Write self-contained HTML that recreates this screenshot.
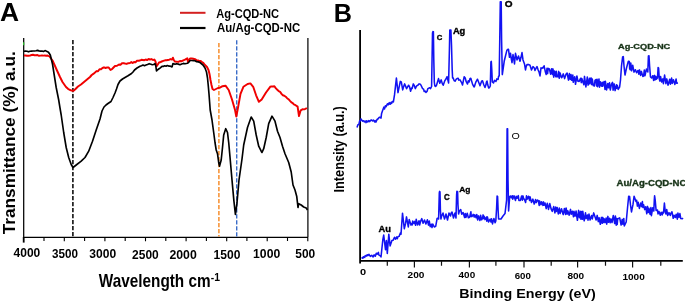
<!DOCTYPE html>
<html><head><meta charset="utf-8"><style>
html,body{margin:0;padding:0;background:#fff;}
svg{display:block;will-change:transform;filter:blur(0.3px);}
text{font-family:"Liberation Sans", sans-serif;}
</style></head><body>
<svg width="685" height="301" viewBox="0 0 685 301">
<rect width="685" height="301" fill="#fff"/>
<path d="M23.7,38 V237.3 H308" stroke="#000" stroke-width="1.25" fill="none"/>
<path d="M307.9,38 V237.3" stroke="#111" stroke-width="1.3" fill="none"/>
<path d="M23.7,42.3 V45.3" stroke="#3c3" stroke-width="1.2"/>
<path d="M44.0,237.3 V241.0 M64.3,237.3 V241.3 M84.6,237.3 V241.0 M104.9,237.3 V241.3 M125.2,237.3 V241.0 M145.5,237.3 V241.3 M165.8,237.3 V241.0 M186.1,237.3 V241.3 M206.4,237.3 V241.0 M226.7,237.3 V241.3 M246.9,237.3 V241.0 M267.2,237.3 V241.3 M287.5,237.3 V241.0 M307.8,237.3 V241.3 " stroke="#000" stroke-width="1.1" fill="none"/>
<path d="M23.7,237 V242.6" stroke="#000" stroke-width="1.8" fill="none"/>
<path d="M72.9,40 V236.5" stroke="#000" stroke-width="1.5" stroke-dasharray="4.3,1.7"/>
<path d="M218.9,43 V236.5" stroke="#f5861f" stroke-width="1.4" stroke-dasharray="4.3,1.7"/>
<path d="M236.7,40.3 V236.5" stroke="#3a6cc8" stroke-width="1.4" stroke-dasharray="4.3,1.7"/>
<path d="M24.0,55.5 L25.5,55.5 L27.0,55.8 L28.5,55.8 L30.0,55.6 L31.5,55.0 L33.0,54.8 L34.5,55.2 L36.0,55.3 L37.5,55.0 L39.0,55.8 L40.5,55.6 L42.0,55.4 L43.4,55.6 L44.8,55.5 L46.1,55.7 L47.5,55.5 L49.5,56.5 L52.5,60.5 L55.0,66.0 L57.0,70.5 L60.0,77.0 L62.5,82.0 L66.0,87.0 L68.0,88.8 L70.0,90.0 L72.0,90.7 L73.5,90.8 L75.0,89.5 L78.0,86.5 L81.0,84.5 L84.0,82.0 L87.0,79.5 L90.0,77.0 L91.7,75.0 L93.3,73.9 L95.0,72.5 L96.5,71.1 L98.0,71.3 L99.5,69.2 L101.0,69.3 L102.5,68.0 L104.0,67.3 L105.6,68.0 L107.2,67.4 L108.7,67.5 L110.5,70.0 L112.0,69.2 L113.5,67.5 L115.0,66.0 L117.0,65.8 L119.0,64.5 L120.5,64.7 L122.0,63.3 L123.5,63.1 L125.0,63.5 L126.7,63.9 L128.3,63.2 L130.0,63.0 L131.3,62.1 L132.7,63.0 L134.0,62.0 L135.5,62.3 L137.0,60.7 L138.5,60.8 L140.0,60.5 L141.4,59.8 L142.9,60.0 L144.3,60.2 L145.7,59.5 L147.1,60.1 L148.6,59.0 L150.0,59.5 L151.5,59.1 L153.0,60.0 L154.5,59.6 L155.5,61.5 L156.5,66.3 L157.5,65.0 L159.0,62.5 L160.0,62.3 L161.7,61.5 L163.3,60.9 L165.0,60.3 L166.4,60.3 L167.8,60.0 L169.2,59.7 L170.6,59.1 L172.0,59.6 L172.9,57.7 L173.8,60.0 L175.0,61.6 L176.7,61.7 L178.3,61.9 L180.0,61.0 L181.7,61.2 L183.3,60.3 L185.0,59.6 L187.3,58.3 L188.0,62.0 L190.0,58.5 L191.7,58.5 L193.3,58.8 L195.0,59.2 L196.5,60.1 L198.0,60.4 L199.3,61.2 L200.7,60.9 L202.0,62.0 L203.5,63.1 L205.0,65.0 L207.0,67.0 L208.5,70.0 L209.5,74.0 L210.5,80.0 L211.5,85.0 L212.5,89.0 L214.0,90.0 L216.0,89.0 L218.0,88.0 L220.0,87.6 L222.5,86.2 L225.5,85.7 L228.7,90.0 L232.0,99.5 L234.9,109.4 L236.3,116.5 L237.7,109.4 L240.5,93.9 L243.4,86.8 L247.6,84.0 L250.4,83.4 L253.2,86.8 L256.1,95.3 L258.9,101.8 L261.7,99.5 L266.0,92.5 L270.2,86.8 L271.6,86.4 L273.0,86.5 L274.4,86.3 L275.9,88.4 L277.3,89.7 L278.7,91.1 L280.1,91.8 L281.5,93.9 L282.9,95.3 L284.3,95.7 L285.7,96.7 L287.1,98.2 L288.5,99.2 L290.0,100.9 L291.4,102.4 L292.8,103.2 L294.2,104.6 L295.6,105.2 L297.6,106.6 L299.0,116.0 L300.7,110.3 L302.4,109.3 L304.0,109.4 L305.4,108.8 L306.9,108.0" stroke="#f00000" stroke-width="1.95" fill="none" stroke-linejoin="round"/>
<path d="M24.0,51.2 L25.5,51.1 L27.0,51.3 L28.5,51.8 L30.0,51.2 L31.5,51.1 L33.0,51.0 L34.5,51.0 L36.0,50.8 L37.5,50.4 L39.0,50.9 L40.5,51.1 L42.0,51.0 L43.5,51.5 L45.0,50.6 L46.5,51.2 L48.5,52.2 L50.3,55.0 L52.5,64.0 L56.2,87.5 L58.7,100.0 L60.0,108.0 L61.2,115.0 L63.7,132.5 L66.2,147.5 L68.7,157.5 L71.2,164.5 L73.0,167.5 L76.2,165.0 L81.2,161.2 L85.0,157.5 L88.7,151.2 L92.5,141.2 L96.2,130.0 L100.0,119.0 L102.0,111.0 L104.0,107.0 L106.0,105.0 L108.0,103.5 L111.0,101.5 L113.0,97.5 L115.0,93.0 L116.5,89.0 L118.0,84.5 L120.0,81.0 L122.5,79.0 L125.0,77.5 L128.0,75.8 L131.5,73.5 L133.0,72.0 L134.5,70.0 L137.0,68.0 L140.0,66.3 L141.5,65.7 L143.0,65.0 L144.5,65.7 L146.0,65.1 L147.5,64.5 L149.2,63.7 L151.0,64.2 L152.3,64.7 L153.7,64.5 L155.0,63.6 L155.8,66.0 L156.5,71.0 L157.3,70.0 L158.7,69.0 L160.3,67.9 L162.0,66.3 L163.3,66.4 L164.7,65.8 L166.0,66.2 L167.3,65.5 L168.7,66.1 L170.0,66.0 L172.0,67.0 L173.0,63.5 L175.0,64.3 L176.7,63.8 L178.3,64.1 L180.0,64.7 L181.7,64.0 L183.3,63.4 L185.0,63.8 L187.5,63.3 L189.0,62.0 L190.0,60.5 L191.7,60.5 L193.3,60.6 L195.0,60.7 L196.7,61.8 L198.3,61.9 L200.0,62.5 L203.0,65.0 L205.0,68.0 L206.5,72.0 L207.5,78.0 L208.3,86.0 L209.0,94.0 L209.6,102.0 L210.2,110.0 L212.0,120.0 L213.7,132.5 L215.0,142.5 L216.2,150.0 L217.5,153.7 L218.7,162.5 L219.5,166.2 L221.2,160.0 L222.5,147.5 L223.7,135.0 L225.7,128.7 L227.5,132.5 L228.7,142.5 L230.0,157.0 L232.0,180.0 L233.9,200.9 L235.4,214.4 L236.9,203.9 L239.0,180.0 L242.0,159.0 L243.7,145.0 L247.5,127.5 L251.2,117.0 L253.7,121.2 L256.2,135.0 L258.7,146.2 L261.2,151.2 L262.0,152.5 L263.7,148.7 L266.2,137.5 L268.7,123.7 L272.0,116.2 L275.0,121.2 L277.5,131.2 L280.0,137.5 L282.5,146.2 L285.0,153.7 L288.7,162.5 L291.2,172.0 L293.0,185.0 L295.0,190.0 L296.7,196.2 L298.0,207.5 L298.7,203.7 L301.2,205.0 L303.7,207.0 L306.2,208.0 L307.5,210.0" stroke="#000" stroke-width="1.65" fill="none" stroke-linejoin="round"/>
<path d="M180,12.8 H205.5" stroke="#d42020" stroke-width="2"/>
<path d="M180,28 H205.5" stroke="#000" stroke-width="2.2"/>
<path d="M360.1,30 V263.6" stroke="#000" stroke-width="1.8" fill="none"/>
<path d="M360,260.9 H682.8" stroke="#000" stroke-width="1.9" fill="none"/>
<path d="M387.3,261 V265.8 M414.4,261 V267.4 M441.5,261 V265.8 M469.4,261 V267.4 M495.9,261 V265.8 M524.0,261 V267.4 M551.2,261 V265.8 M577.6,261 V267.4 M605.5,261 V265.8 M632.6,261 V267.4 M660.8,261 V265.8 " stroke="#111" stroke-width="1.2" fill="none"/>
<path d="M357.0,127.5 L357.9,124.8 L358.8,124.6 L359.7,120.8 L360.4,120.9 L361.0,118.9 L362.5,121.2 L363.9,120.7 L364.4,121.9 L365.5,121.1 L366.1,122.6 L366.7,120.7 L367.8,122.0 L368.9,120.5 L369.7,121.6 L371.1,119.9 L372.5,120.9 L373.4,120.1 L374.8,121.9 L375.3,120.6 L376.0,122.1 L377.1,119.2 L377.7,119.4 L378.5,118.1 L379.6,117.2 L381.0,118.1 L381.6,113.4 L382.7,110.2 L383.9,107.1 L384.5,109.0 L385.4,105.8 L386.1,106.6 L387.4,103.8 L388.2,104.8 L389.3,102.6 L390.1,104.3 L391.1,102.3 L391.6,103.4 L392.4,101.5 L393.4,101.9 L394.5,94.9 L396.4,78.1 L398.0,92.6 L400.3,81.4 L401.3,81.9 L402.7,89.9 L403.7,86.4 L404.6,83.9 L406.6,88.6 L408.6,85.2 L409.6,87.0 L410.6,91.2 L411.6,88.1 L412.1,88.5 L413.3,83.9 L414.3,85.7 L415.3,88.6 L416.6,85.9 L417.9,85.2 L418.8,84.0 L419.9,83.9 L420.9,85.0 L422.6,88.6 L423.6,89.2 L424.1,91.4 L425.2,91.1 L425.9,92.5 L427.0,91.4 L427.9,88.6 L429.7,87.7 L430.5,88.6 L431.6,86.5 L432.5,33.0 L432.9,31.6 L433.4,31.8 L433.8,60.0 L434.3,82.0 L434.8,85.9 L435.6,86.5 L436.5,85.2 L438.5,78.6 L439.8,83.2 L441.2,79.9 L442.3,83.6 L443.2,85.2 L444.7,80.9 L445.8,79.3 L447.1,76.6 L448.6,83.0 L449.4,50.0 L449.8,30.0 L450.9,30.0 L451.5,45.0 L452.2,70.0 L452.6,78.0 L453.1,77.9 L454.1,80.5 L455.1,81.2 L456.3,79.2 L457.1,78.6 L458.2,78.3 L458.9,80.1 L460.0,79.9 L461.6,82.6 L462.5,85.0 L464.2,76.7 L465.2,77.9 L466.2,81.7 L467.5,84.0 L468.3,80.8 L469.2,81.9 L469.9,78.8 L470.8,78.3 L472.6,84.4 L474.0,87.0 L474.6,86.0 L475.1,84.2 L475.8,82.2 L477.5,79.2 L480.0,85.8 L481.6,81.3 L482.5,80.8 L483.9,85.0 L485.0,87.5 L485.9,85.1 L486.4,82.2 L487.0,81.0 L487.8,85.1 L488.7,88.0 L489.5,87.5 L490.3,86.0 L490.9,62.0 L491.3,61.3 L491.8,70.0 L492.3,82.0 L493.5,83.0 L494.4,80.4 L495.9,81.5 L496.8,78.9 L498.1,79.5 L498.6,76.2 L499.2,76.0 L499.9,30.0 L500.3,1.8 L501.2,1.8 L501.6,40.0 L502.3,74.6 L504.2,61.3 L506.8,50.6 L507.4,49.5 L508.5,49.3 L509.5,57.3 L510.5,53.3 L511.3,58.9 L512.0,62.6 L513.0,54.6 L513.6,57.7 L514.5,63.9 L515.5,53.3 L517.0,59.9 L518.5,56.0 L520.0,61.2 L521.0,57.3 L522.0,52.6 L523.0,59.9 L524.5,63.9 L525.5,69.9 L526.2,66.4 L527.0,64.6 L528.9,64.6 L530.0,65.2 L531.5,70.0 L533.0,66.6 L534.3,68.1 L535.0,70.5 L536.4,67.5 L537.0,66.6 L538.0,69.6 L539.0,71.9 L540.0,75.9 L541.0,67.9 L542.0,68.4 L542.4,67.5 L543.0,68.0 L544.1,65.8 L545.4,72.1 L546.2,74.5 L547.0,68.3 L547.6,73.6 L548.2,68.4 L549.4,69.0 L550.6,74.2 L551.6,68.8 L552.4,74.4 L553.0,68.9 L553.7,77.1 L554.5,71.0 L555.7,76.7 L556.3,71.3 L556.8,76.8 L558.0,76.7 L558.7,71.4 L559.2,78.3 L560.1,72.9 L561.4,77.5 L561.8,77.7 L563.3,73.9 L564.6,78.6 L566.0,74.3 L567.1,73.0 L568.5,80.1 L569.4,73.5 L570.3,79.5 L571.0,74.5 L571.8,80.3 L572.8,75.1 L573.2,82.2 L574.7,76.7 L575.5,84.3 L576.9,76.0 L578.0,81.3 L579.1,81.4 L580.6,78.3 L581.3,82.6 L581.8,78.4 L583.3,83.1 L583.9,84.7 L584.5,76.4 L585.9,86.9 L587.3,77.1 L588.1,85.1 L589.5,78.2 L589.9,83.9 L591.1,77.9 L591.8,84.6 L592.3,79.0 L593.3,85.6 L594.4,86.0 L595.0,80.4 L596.0,79.5 L596.6,85.9 L597.1,79.3 L597.6,86.7 L599.0,79.0 L599.5,87.2 L600.3,81.7 L601.4,86.1 L602.2,82.3 L602.6,86.3 L604.0,81.6 L605.0,89.5 L605.4,81.3 L606.6,89.9 L607.8,83.5 L608.6,87.8 L609.5,82.8 L610.3,90.0 L611.5,84.2 L612.5,82.4 L613.1,90.2 L614.2,83.9 L615.1,90.6 L616.5,84.7 L616.9,88.1 L617.4,85.6 L618.2,89.4 L619.6,87.2 L620.5,80.0 L621.5,66.0 L622.6,57.0 L623.3,56.6 L624.0,66.0 L625.0,75.0 L626.5,68.0 L628.2,61.6 L628.7,61.2 L629.3,61.4 L629.7,68.9 L630.3,69.8 L630.8,63.1 L631.6,70.8 L632.7,65.2 L634.0,72.1 L635.4,69.7 L636.6,72.7 L638.0,70.5 L638.8,74.2 L639.5,69.9 L640.6,75.4 L641.4,71.4 L642.8,76.4 L643.6,76.1 L644.3,70.1 L645.0,75.7 L646.4,69.1 L647.8,72.0 L648.4,56.0 L649.0,55.8 L649.6,66.0 L650.5,77.0 L651.6,78.0 L652.8,75.7 L653.6,80.4 L654.5,75.4 L655.0,79.9 L655.9,76.4 L656.3,79.2 L657.5,78.0 L658.1,67.5 L658.6,68.0 L659.3,79.0 L659.9,81.1 L660.6,76.6 L661.7,82.0 L662.9,78.9 L663.4,83.7 L664.6,75.1 L665.9,83.7 L666.8,78.9 L668.0,85.2 L668.4,84.1 L669.7,79.2 L670.4,84.2 L671.6,78.1 L672.2,83.4 L673.4,79.7 L674.9,84.4 L676.1,79.0 L676.6,83.2 L678.0,83.0" stroke="#1212f2" stroke-width="1.55" fill="none" stroke-linejoin="round"/>
<path d="M361.6,258.4 L362.2,257.7 L362.9,258.2 L363.3,256.8 L364.7,257.4 L365.2,255.6 L366.3,256.1 L367.2,254.7 L367.8,255.7 L369.0,254.4 L370.3,256.4 L371.7,255.4 L373.1,256.9 L374.1,254.9 L375.3,256.2 L376.3,253.3 L377.2,254.2 L378.4,252.3 L378.8,254.8 L379.5,255.3 L380.4,255.9 L381.0,257.0 L382.8,240.0 L383.7,235.1 L385.5,249.7 L386.4,240.6 L387.3,253.4 L388.8,234.2 L390.1,246.0 L391.9,240.6 L393.0,240.3 L394.5,237.3 L395.5,239.2 L396.8,236.9 L397.3,238.8 L397.8,236.9 L399.1,236.4 L400.5,232.8 L401.0,234.2 L402.5,213.2 L404.3,228.7 L405.6,223.2 L406.5,216.9 L408.3,226.9 L409.2,219.6 L411.0,225.1 L411.5,223.6 L412.3,224.9 L412.7,221.1 L414.1,223.5 L414.8,221.4 L415.6,225.3 L416.2,219.3 L417.6,224.9 L419.0,220.7 L419.6,225.0 L420.9,220.5 L421.8,218.6 L423.1,223.3 L424.5,220.0 L425.9,223.9 L427.4,219.8 L428.5,225.1 L429.3,221.1 L430.2,226.7 L431.4,224.2 L432.0,227.5 L432.8,224.1 L434.3,227.0 L435.7,226.3 L437.1,218.5 L438.2,218.0 L438.6,219.0 L439.3,193.0 L439.6,191.4 L440.0,192.0 L440.4,210.0 L440.9,219.0 L441.6,216.2 L443.0,213.0 L444.5,219.0 L445.4,216.5 L446.0,214.0 L447.5,220.0 L449.0,213.0 L450.5,216.0 L451.2,212.9 L452.0,212.0 L452.8,215.0 L453.5,218.0 L454.3,215.0 L455.0,213.0 L456.0,218.0 L456.6,195.0 L456.9,191.4 L457.6,191.6 L458.0,205.0 L458.6,214.0 L459.4,211.0 L460.7,209.5 L461.7,214.2 L463.1,212.5 L464.6,217.5 L465.2,213.5 L465.9,217.4 L467.2,213.3 L468.4,217.8 L469.6,217.3 L470.9,211.7 L471.3,216.6 L472.1,216.4 L473.2,214.4 L474.2,217.1 L474.8,214.8 L476.2,217.8 L476.8,214.5 L477.6,220.0 L478.5,215.9 L479.9,220.5 L480.6,215.2 L481.6,219.8 L482.5,218.3 L483.1,214.9 L483.6,218.6 L484.1,216.2 L485.0,219.6 L486.4,217.0 L486.8,221.2 L487.4,216.9 L488.6,222.0 L490.1,219.2 L491.0,221.9 L491.5,218.7 L492.5,223.9 L493.9,218.5 L495.1,222.8 L495.8,221.0 L496.6,208.0 L497.1,196.0 L497.6,196.5 L498.1,210.0 L498.6,219.0 L501.0,219.0 L503.0,216.0 L505.0,213.6 L506.6,200.0 L507.1,128.8 L507.6,128.8 L508.0,180.0 L508.6,211.0 L509.7,196.5 L510.8,196.1 L511.3,197.8 L512.3,195.8 L512.7,199.2 L514.0,195.7 L515.5,200.5 L516.2,196.2 L517.1,198.3 L518.3,195.6 L518.9,200.4 L520.4,200.4 L521.6,196.0 L522.4,200.2 L523.0,195.9 L523.5,198.2 L524.7,199.9 L525.6,202.5 L526.5,195.8 L527.2,199.1 L528.5,196.2 L529.6,200.5 L530.0,196.8 L531.5,202.5 L532.9,199.1 L534.2,204.1 L535.6,199.5 L536.2,202.6 L537.5,200.0 L538.3,200.6 L539.2,205.4 L539.6,200.9 L541.0,204.7 L541.6,201.7 L543.0,205.4 L543.5,201.9 L544.1,205.3 L545.0,203.0 L546.2,208.6 L547.3,203.2 L548.5,209.4 L549.8,203.6 L551.2,209.2 L552.3,211.4 L553.7,206.6 L554.9,212.9 L555.7,207.1 L556.3,211.4 L557.2,207.6 L558.3,213.9 L559.3,208.1 L560.1,213.5 L561.5,208.7 L562.9,213.7 L563.3,214.6 L564.4,208.5 L565.6,214.4 L566.1,208.0 L567.2,214.1 L567.8,210.7 L569.2,215.2 L570.5,209.4 L571.3,214.3 L572.4,211.3 L573.5,216.8 L574.0,211.3 L575.1,216.1 L576.1,211.0 L576.9,217.2 L577.4,220.3 L578.6,210.4 L579.5,217.7 L580.5,211.4 L580.9,219.2 L581.4,211.6 L582.4,219.3 L582.8,211.3 L584.2,220.8 L585.5,212.8 L586.2,218.6 L587.4,215.1 L588.0,220.2 L589.0,214.1 L590.1,220.0 L591.6,215.6 L592.3,218.9 L593.7,212.9 L595.0,216.7 L596.1,220.0 L597.2,215.4 L598.3,221.6 L599.1,217.7 L600.3,224.3 L601.4,217.4 L602.2,223.3 L602.8,217.4 L603.5,222.4 L604.1,218.7 L605.0,222.6 L606.1,218.1 L606.7,224.1 L607.9,216.4 L608.4,222.2 L609.5,218.3 L610.1,222.7 L611.0,219.0 L612.0,222.5 L613.3,215.5 L614.7,223.5 L615.4,216.0 L616.2,225.2 L616.6,218.4 L617.2,224.5 L617.7,218.7 L618.9,218.3 L619.7,217.9 L621.1,225.0 L622.2,219.4 L622.8,224.2 L623.8,218.5 L624.3,225.9 L626.2,222.0 L627.7,206.0 L628.7,196.2 L629.6,196.5 L630.5,205.0 L631.5,211.9 L633.0,204.4 L634.1,196.2 L636.0,201.5 L636.6,200.2 L637.4,206.1 L638.2,202.3 L639.4,208.4 L640.7,203.1 L641.6,206.6 L642.4,201.6 L642.9,207.4 L643.6,204.7 L644.7,209.6 L645.7,206.8 L646.8,213.8 L647.5,206.4 L648.4,212.4 L648.9,208.2 L650.0,214.2 L650.9,207.6 L651.4,215.7 L652.8,207.7 L653.8,211.0 L654.3,200.0 L654.6,195.8 L655.2,200.0 L656.1,210.4 L657.5,210.0 L658.0,214.0 L659.0,211.5 L660.3,215.3 L661.2,212.3 L662.3,214.9 L662.7,212.3 L663.5,213.0 L664.4,203.0 L665.3,212.0 L666.0,214.0 L666.7,209.5 L667.7,215.5 L669.0,212.6 L670.3,215.5 L671.0,213.3 L672.0,211.8 L673.2,218.3 L674.0,215.2 L675.3,217.5 L676.2,214.3 L677.3,219.2 L677.9,213.0 L679.0,217.4 L679.9,213.6 L680.8,218.6 L682.3,218.7 L683.0,218.0" stroke="#1212f2" stroke-width="1.55" fill="none" stroke-linejoin="round"/>
<g transform="matrix(1.1000,0,0,1.0667,-22.025,-191.933)"><text x="20" y="200" font-size="24" font-weight="bold" fill="#000">A</text></g>
<g transform="matrix(1.0508,0,0,1.1091,312.707,-200.218)"><text x="20" y="200" font-size="24" font-weight="bold" fill="#000">B</text></g>
<g transform="matrix(0.8883,0,0,0.9867,198.413,-179.300)"><text x="20" y="200" font-size="12.5" font-weight="bold" fill="#000">Ag-CQD-NC</text></g>
<g transform="matrix(0.9152,0,0,1.0609,198.666,-180.226)"><text x="20" y="200" font-size="12.5" font-weight="bold" fill="#000">Au/Ag-CQD-NC</text></g>
<g transform="matrix(1.1407,0,0,1.1902,-213.170,-122.756)"><text transform="translate(200,300) rotate(-90)" font-size="14.5" font-weight="bold" fill="#000">Transmittance (%) a.u.</text></g>
<g transform="matrix(0.9630,0,0,1.0629,-5.700,44.629)"><text x="20" y="200" font-size="12.5" font-weight="bold" fill="#000">4000</text></g>
<g transform="matrix(0.9333,0,0,1.0629,33.300,45.229)"><text x="20" y="200" font-size="12.5" font-weight="bold" fill="#000">3500</text></g>
<g transform="matrix(0.9667,0,0,1.0629,70.025,45.729)"><text x="20" y="200" font-size="12.5" font-weight="bold" fill="#000">3000</text></g>
<g transform="matrix(0.9570,0,0,1.0629,112.981,46.329)"><text x="20" y="200" font-size="12.5" font-weight="bold" fill="#000">2500</text></g>
<g transform="matrix(0.9832,0,0,1.0286,149.745,52.886)"><text x="20" y="200" font-size="12.5" font-weight="bold" fill="#000">2000</text></g>
<g transform="matrix(0.9660,0,0,1.0400,194.255,50.900)"><text x="20" y="200" font-size="12.5" font-weight="bold" fill="#000">1500</text></g>
<g transform="matrix(0.9774,0,0,1.0743,233.520,43.343)"><text x="20" y="200" font-size="12.5" font-weight="bold" fill="#000">1000</text></g>
<g transform="matrix(0.9570,0,0,1.0743,276.182,43.343)"><text x="20" y="200" font-size="12.5" font-weight="bold" fill="#000">500</text></g>
<g transform="matrix(0.9297,0,0,1.0710,80.206,73.158)"><text x="20" y="200" font-size="16.5" font-weight="bold" fill="#000">Wavelength cm</text></g>
<g transform="matrix(1.0375,0,0,1.0370,190.031,74.093)"><text x="20" y="200" font-size="10" font-weight="bold" fill="#000">-1</text></g>
<g transform="matrix(1.0857,0,0,0.9803,126.471,-101.624)"><text transform="translate(200,300) rotate(-90)" font-size="13" font-weight="bold" fill="#000">Intensity (a.u.)</text></g>
<g transform="matrix(1.3000,0,0,0.9667,333.975,81.567)"><text x="20" y="200" font-size="8.5" font-weight="bold" fill="#000">0</text></g>
<g transform="matrix(1.1926,0,0,0.9667,383.650,84.467)"><text x="20" y="200" font-size="8.5" font-weight="bold" fill="#000">200</text></g>
<g transform="matrix(1.1704,0,0,0.9833,435.200,81.133)"><text x="20" y="200" font-size="8.5" font-weight="bold" fill="#000">400</text></g>
<g transform="matrix(1.1407,0,0,0.9833,491.900,82.433)"><text x="20" y="200" font-size="8.5" font-weight="bold" fill="#000">600</text></g>
<g transform="matrix(1.1852,0,0,1.0000,543.700,78.700)"><text x="20" y="200" font-size="8.5" font-weight="bold" fill="#000">800</text></g>
<g transform="matrix(1.1833,0,0,1.0000,598.742,80.500)"><text x="20" y="200" font-size="8.5" font-weight="bold" fill="#000">1000</text></g>
<g transform="matrix(1.1441,0,0,1.0870,436.261,80.391)"><text x="20" y="200" font-size="12.5" font-weight="bold" fill="#000">Binding Energy (eV)</text></g>
<g transform="matrix(0.9636,0,0,1.0000,417.486,-159.650)"><text x="20" y="200" font-size="8" font-weight="bold" fill="#000" stroke="#000" stroke-width="0.35" stroke-linejoin="round">C</text></g>
<g transform="matrix(1.0909,0,0,0.9625,431.082,-158.125)"><text x="20" y="200" font-size="8.5" font-weight="bold" fill="#000" stroke="#000" stroke-width="0.35" stroke-linejoin="round">Ag</text></g>
<g transform="matrix(1.2522,0,0,1.0833,479.643,-209.237)"><text x="20" y="200" font-size="8" font-weight="bold" fill="#000" stroke="#000" stroke-width="0.35" stroke-linejoin="round">O</text></g>
<g transform="matrix(1.1707,0,0,1.0435,355.085,23.743)"><text x="20" y="200" font-size="8" font-weight="bold" fill="#000" stroke="#000" stroke-width="0.3" stroke-linejoin="round">Au</text></g>
<g transform="matrix(0.9818,0,0,1.1167,424.418,-23.612)"><text x="20" y="200" font-size="8" font-weight="bold" fill="#000" stroke="#000" stroke-width="0.35" stroke-linejoin="round">C</text></g>
<g transform="matrix(0.9909,0,0,0.9375,439.482,4.325)"><text x="20" y="200" font-size="8.5" font-weight="bold" fill="#000" stroke="#000" stroke-width="0.35" stroke-linejoin="round">Ag</text></g>
<g transform="matrix(1.3333,0,0,1.1455,484.967,-89.791)"><text x="20" y="200" font-size="8" font-weight="normal" fill="#000">O</text></g>
<g transform="matrix(1.0854,0,0,0.9125,596.292,-133.025)"><text x="20" y="200" font-size="8.5" font-weight="bold" fill="#173317" stroke="#173317" stroke-width="0.35" stroke-linejoin="round">Ag-CQD-NC</text></g>
<g transform="matrix(1.0672,0,0,0.9371,595.256,-1.703)"><text x="20" y="200" font-size="9" font-weight="bold" fill="#173317" stroke="#173317" stroke-width="0.35" stroke-linejoin="round">Au/Ag-CQD-NC</text></g>
</svg></body></html>
